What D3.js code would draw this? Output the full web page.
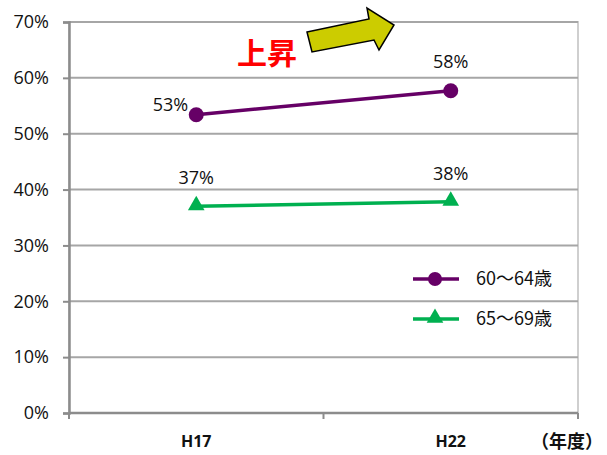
<!DOCTYPE html>
<html>
<head>
<meta charset="utf-8">
<script src="https://cdn.jsdelivr.net/npm/d3@7"></script>
<style>
  body { margin: 0; background: #fff; }
  svg text { font-family: "Open Sans", "Noto Sans", sans-serif; fill: #111; }
</style>
</head>
<body>
<div id="chart"></div>
<script>
// data
const years = ['H17', 'H22'];
const age60 = [0.534, 0.577];
const age65 = [0.370, 0.378];
const age60Labels = ['53%', '58%'];
const age65Labels = ['37%', '38%'];
const seriesNames = ['60～64歳', '65～69歳'];
const yTicks = [0, 0.1, 0.2, 0.3, 0.4, 0.5, 0.6, 0.7];

const width = 607, height = 455;
const margin = { top: 22, right: 29, bottom: 42, left: 69 };
const w = width - margin.left - margin.right;
const h = height - margin.top - margin.bottom;

const svg = d3.select('#chart')
  .append('svg')
  .attr('width', width)
  .attr('height', height);

const g = svg.append('g')
  .attr('transform', `translate(${margin.left},${margin.top})`);

const x = d3.scaleBand().domain(years).range([0, w]).padding(0);
const y = d3.scaleLinear().domain([0, 0.7]).range([h, 0]);
const cx = d => x(d) + x.bandwidth() / 2;

// plot frame (right + top light border)
g.append('rect')
  .attr('x', 0).attr('y', 0)
  .attr('width', w).attr('height', h)
  .attr('fill', 'none')
  .attr('stroke', '#cfcfcf')
  .attr('stroke-width', 2);

// gridlines
g.append('g')
  .selectAll('line')
  .data(yTicks.slice(1))
  .join('line')
  .attr('x1', 0).attr('x2', w)
  .attr('y1', d => y(d)).attr('y2', d => y(d))
  .attr('stroke', '#a6a6a6')
  .attr('stroke-width', 2);

// y axis
const yAxisGroup = g.append('g')
  .call(d3.axisLeft(y).tickValues(yTicks).tickFormat(d3.format('.0%')).tickSize(6).tickPadding(14));
yAxisGroup.select('.domain').attr('stroke', '#8c8c8c').attr('stroke-width', 2.5);
yAxisGroup.selectAll('.tick line').attr('stroke', '#8c8c8c').attr('stroke-width', 2);
yAxisGroup.selectAll('.tick text')
  .attr('font-size', 18).attr('fill', '#111')
  .style('font-family', '"Open Sans", sans-serif');

// x axis: ticks on band edges
const xAxisGroup = g.append('g').attr('transform', `translate(0,${h})`);
xAxisGroup.append('line')
  .attr('x1', 0).attr('x2', w)
  .attr('stroke', '#8c8c8c').attr('stroke-width', 2.5);
xAxisGroup.selectAll('.edge')
  .data([0, ...years.map(d => x(d) + x.bandwidth())])
  .join('line')
  .attr('class', 'edge')
  .attr('x1', d => d).attr('x2', d => d)
  .attr('y1', 0).attr('y2', 6)
  .attr('stroke', '#8c8c8c').attr('stroke-width', 2);
xAxisGroup.selectAll('.lbl')
  .data(years)
  .join('text')
  .attr('class', 'lbl')
  .attr('x', d => cx(d))
  .attr('y', 34)
  .attr('text-anchor', 'middle')
  .attr('font-size', 16)
  .attr('font-weight', 'bold')
  .text(d => d);

svg.append('text')
  .attr('x', 567).attr('y', 448)
  .attr('text-anchor', 'middle')
  .attr('font-size', 18)
  .attr('font-weight', 'bold')
  .style('font-family', '"Noto Sans CJK JP", sans-serif')
  .text('（年度）');

// lines
const line = d3.line().x((d, i) => cx(years[i])).y(d => y(d));

g.append('path').datum(age60)
  .attr('d', line)
  .attr('fill', 'none')
  .attr('stroke', '#660066')
  .attr('stroke-width', 3.5);

g.append('path').datum(age65)
  .attr('d', line)
  .attr('fill', 'none')
  .attr('stroke', '#00b050')
  .attr('stroke-width', 3.5);

g.selectAll('.dot60')
  .data(age60)
  .join('circle')
  .attr('cx', (d, i) => cx(years[i]))
  .attr('cy', d => y(d))
  .attr('r', 7.5)
  .attr('fill', '#660066');

const tri = d3.symbol().type(d3.symbolTriangle).size(120);
g.selectAll('.tri65')
  .data(age65)
  .join('path')
  .attr('transform', (d, i) => `translate(${cx(years[i])},${y(d) - 1})`)
  .attr('d', tri)
  .attr('fill', '#00b050');

// data labels
g.append('text')
  .attr('x', cx(years[0]) - 8).attr('y', y(age60[0]) - 4)
  .attr('text-anchor', 'end')
  .attr('font-size', 18)
  .text(age60Labels[0]);
g.append('text')
  .attr('x', cx(years[1])).attr('y', y(age60[1]) - 23)
  .attr('text-anchor', 'middle')
  .attr('font-size', 18)
  .text(age60Labels[1]);
g.selectAll('.lbl65')
  .data(age65)
  .join('text')
  .attr('x', (d, i) => cx(years[i]))
  .attr('y', d => y(d) - 22)
  .attr('text-anchor', 'middle')
  .attr('font-size', 18)
  .text((d, i) => age65Labels[i]);

// legend
const legend = svg.append('g').attr('transform', 'translate(413,279)');
const legendColors = ['#660066', '#00b050'];
seriesNames.forEach((name, i) => {
  const row = legend.append('g').attr('transform', `translate(0,${i * 40})`);
  row.append('line')
    .attr('x1', 0).attr('x2', 46)
    .attr('stroke', legendColors[i]).attr('stroke-width', 3.5);
  if (i === 0) {
    row.append('circle').attr('cx', 22).attr('r', 7).attr('fill', legendColors[i]);
  } else {
    row.append('path').attr('transform', 'translate(22,-1)').attr('d', tri).attr('fill', legendColors[i]);
  }
  row.append('text')
    .attr('x', 63).attr('y', 6)
    .attr('font-size', 18)
    .style('font-family', '"Noto Sans CJK JP", sans-serif')
    .text(name);
});

// annotation: 上昇 + arrow
svg.append('text')
  .attr('x', 267).attr('y', 64)
  .attr('text-anchor', 'middle')
  .attr('font-size', 30)
  .attr('font-weight', 'bold')
  .style('font-family', '"Noto Sans CJK JP", sans-serif')
  .style('fill', '#ff0000')
  .text('上昇');

const arrowPts = [[307, 32], [369, 19], [367, 8], [394, 25], [379, 50], [374, 40], [312, 52]];
svg.append('polygon')
  .attr('points', arrowPts.map(p => p.join(',')).join(' '))
  .attr('fill', '#cccc00')
  .attr('stroke', '#000')
  .attr('stroke-width', 1.5)
  .attr('stroke-linejoin', 'miter');
</script>
</body>
</html>
